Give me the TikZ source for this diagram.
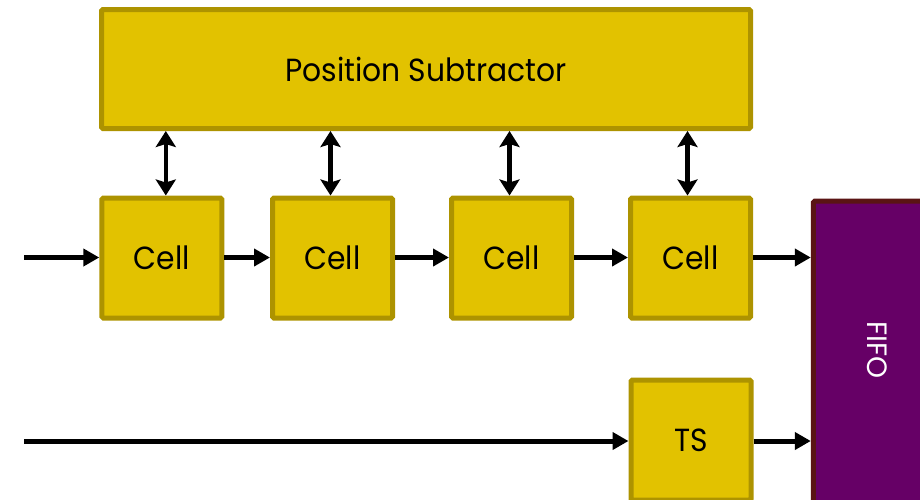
\documentclass[tikz,border=0pt]{standalone}
\usepackage{fontspec}
\setmainfont{Poppins}
\usetikzlibrary{arrows.meta}
\definecolor{blockfill}{HTML}{E2C200}
\definecolor{blockedge}{HTML}{AD9300}
\definecolor{fifofill}{HTML}{660066}
\definecolor{fifoedge}{HTML}{5A1414}
% narrow the wide geometric face a little and sit it slightly lower
\newcommand{\lbl}[1]{\raisebox{-2pt}{\scalebox{0.93}[1]{#1}}}
\tikzset{
  block/.style={draw=blockedge, fill=blockfill, line width=5pt, rounded corners=1.5pt,
    minimum width=120pt, minimum height=120pt, inner sep=0pt, font=\fontsize{32}{36}\selectfont},
  flow/.style={line width=5pt, -{Triangle[length=16pt,width=17pt]}},
  link/.style={line width=4.5pt, {Stealth[length=16pt,width=20pt,inset=3pt]}-{Stealth[length=16pt,width=20pt,inset=3pt]}},
}
\begin{document}
\begin{tikzpicture}[x=1pt,y=-1pt]
\useasboundingbox (0,0) rectangle (920,499);
\begin{scope}
\clip (0,0) rectangle (920,499);
% position subtractor
\node[block, minimum width=649pt, minimum height=119pt] (ps) at (426,69) {\lbl{Position Subtractor}};
% processing cells
\node[block] (c1) at (161.8,258) {\lbl{Cell}};
\node[block] (c2) at (332.5,258) {\lbl{Cell}};
\node[block] (c3) at (511.5,258) {\lbl{Cell}};
\node[block] (c4) at (690.5,258) {\lbl{Cell}};
% timestamp block
\node[block] (ts) at (691,440) {\lbl{TS}};
% output queue
\node[draw=fifoedge, fill=fifofill, line width=5pt, rounded corners=1.5pt, inner sep=0pt,
      minimum width=140pt, minimum height=320pt, anchor=north west] (fifo) at (810.8,198.5) {};
\node[rotate=-90, text=white, font=\fontsize{28}{32}\selectfont] (fifolabel) at (877,350) {FIFO};
% inputs
\coordinate (in1) at (24,257.5);
\coordinate (in2) at (24,441);
\draw[flow] (in1) -- (c1.west |- in1);
\draw[flow] (in2) -- (ts.west |- in2);
% chain of cells
\draw[flow] (c1.east |- in1) -- (c2.west |- in1);
\draw[flow] (c2.east |- in1) -- (c3.west |- in1);
\draw[flow] (c3.east |- in1) -- (c4.west |- in1);
\draw[flow] (c4.east |- in1) -- (fifo.west |- in1);
\draw[flow] (ts.east |- in2) -- (fifo.west |- in2);
% links to the subtractor
\draw[link] ([xshift=4pt]ps.south -| c1.north) -- ([xshift=4pt]c1.north);
\draw[link] ([xshift=-2pt]ps.south -| c2.north) -- ([xshift=-2pt]c2.north);
\draw[link] ([xshift=-2pt]ps.south -| c3.north) -- ([xshift=-2pt]c3.north);
\draw[link] ([xshift=-3pt]ps.south -| c4.north) -- ([xshift=-3pt]c4.north);
\end{scope}
\end{tikzpicture}
\end{document}
